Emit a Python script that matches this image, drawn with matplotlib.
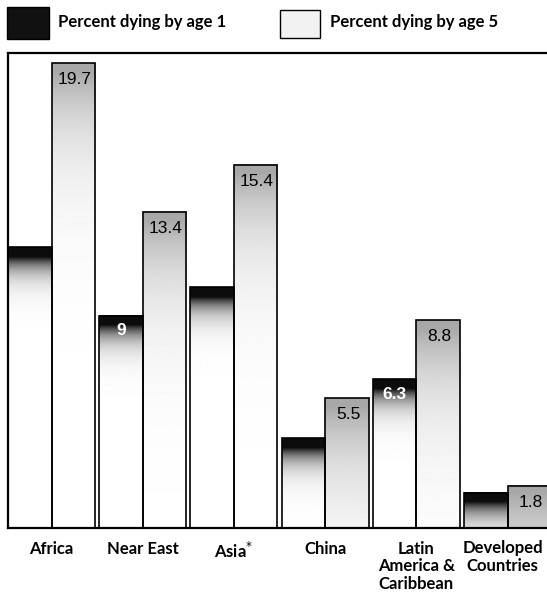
import matplotlib.pyplot as plt
import matplotlib.patches as mpatches
import matplotlib.transforms as mtransforms
import numpy as np

regions = ['Africa', 'Near East', 'Asia*', 'China',
           'Latin\nAmerica &\nCaribbean', 'Developed\nCountries']
region_labels = ['Africa', 'Near East', 'Asia$^{*}$', 'China',
                 'Latin\nAmerica &\nCaribbean', 'Developed\nCountries']
dying_by_1 = [11.9, 9, 10.2, 3.8, 6.3, 1.5]
dying_by_5 = [19.7, 13.4, 15.4, 5.5, 8.8, 1.8]
# only some of the bars carry a printed number
label_by_1 = [None, '9', None, None, '6.3', None]
label_by_5 = ['19.7', '13.4', '15.4', '5.5', '8.8', '1.8']

plt.rcParams['font.family'] = ['Lato', 'DejaVu Sans']

fig = plt.figure(figsize=(5.47, 6.01), dpi=100)
ax = fig.add_axes([8 / 547, 1 - 528 / 601, 1 - 8 / 547, (528 - 53) / 601])

width = 0.477
x = np.arange(len(regions))


def shaded_bar(ax, x0, h, top_gray, fade, band):
    # vertical gradient: dark band at the top fading to white downward
    ys = np.linspace(h, 0, 300)
    d = h - ys
    g = 1 - (1 - top_gray) * np.where(d < band, 1.0, np.exp(-(d - band) / fade))
    img = np.tile(g[:, None], (1, 2))
    ax.imshow(img, extent=(x0, x0 + width, 0, h), cmap='gray', vmin=0, vmax=1,
              aspect='auto', interpolation='bilinear', zorder=2)
    ax.add_patch(mpatches.Rectangle((x0, 0), width, h, facecolor='none',
                                    edgecolor='black', linewidth=1.2, zorder=3))


for i in range(len(regions)):
    shaded_bar(ax, x[i] - width, dying_by_1[i], 0.05, 0.55, 0.4)
    shaded_bar(ax, x[i], dying_by_5[i], 0.66, 2.6, 0.35)

    if label_by_1[i]:
        ax.annotate(label_by_1[i], (x[i] - width / 2, dying_by_1[i]),
                    xytext=(0, -11), textcoords='offset points',
                    ha='center', va='center', fontsize=12.5, fontweight='bold',
                    color='white', family='Liberation Sans', zorder=4)
    ax.annotate(label_by_5[i], (x[i] + width / 2, dying_by_5[i]),
                xytext=(1, -12), textcoords='offset points',
                ha='center', va='center', fontsize=12.5,
                color='black', family='Liberation Sans', zorder=4)

ax.set_xlim(-width, -width + (547 - 8) / 91.2)
ax.set_ylim(0, (528 - 53) / 23.6)
ax.set_yticks([])
ax.set_xticks(x)
ax.set_xticklabels(region_labels, fontsize=12, fontweight='bold',
                   linespacing=1.15)
ax.tick_params(axis='x', length=0, pad=9)
# nudge the last label so it stays inside the figure
last = ax.get_xticklabels()[-1]
last.set_transform(last.get_transform() +
                   mtransforms.ScaledTranslation(-5 / 100, 0, fig.dpi_scale_trans))

ax.spines['right'].set_visible(False)
for side in ['left', 'top', 'bottom']:
    ax.spines[side].set_linewidth(1.6)
    ax.spines[side].set_color('black')

# legend drawn on the figure above the plot frame
fig.patches.append(mpatches.Rectangle((7 / 547, 1 - 39 / 601), 42 / 547, 32 / 601,
                                      transform=fig.transFigure, facecolor='#111111',
                                      edgecolor='black', linewidth=1))
fig.text(58 / 547, 1 - 22 / 601, 'Percent dying by age 1', fontsize=12,
         fontweight='bold', va='center', ha='left')
fig.patches.append(mpatches.Rectangle((280 / 547, 1 - 38 / 601), 40 / 547, 28 / 601,
                                      transform=fig.transFigure, facecolor='#f2f2f2',
                                      edgecolor='black', linewidth=1))
fig.text(330 / 547, 1 - 22 / 601, 'Percent dying by age 5', fontsize=12,
         fontweight='bold', va='center', ha='left')

fig.savefig('out.png', dpi=100)
